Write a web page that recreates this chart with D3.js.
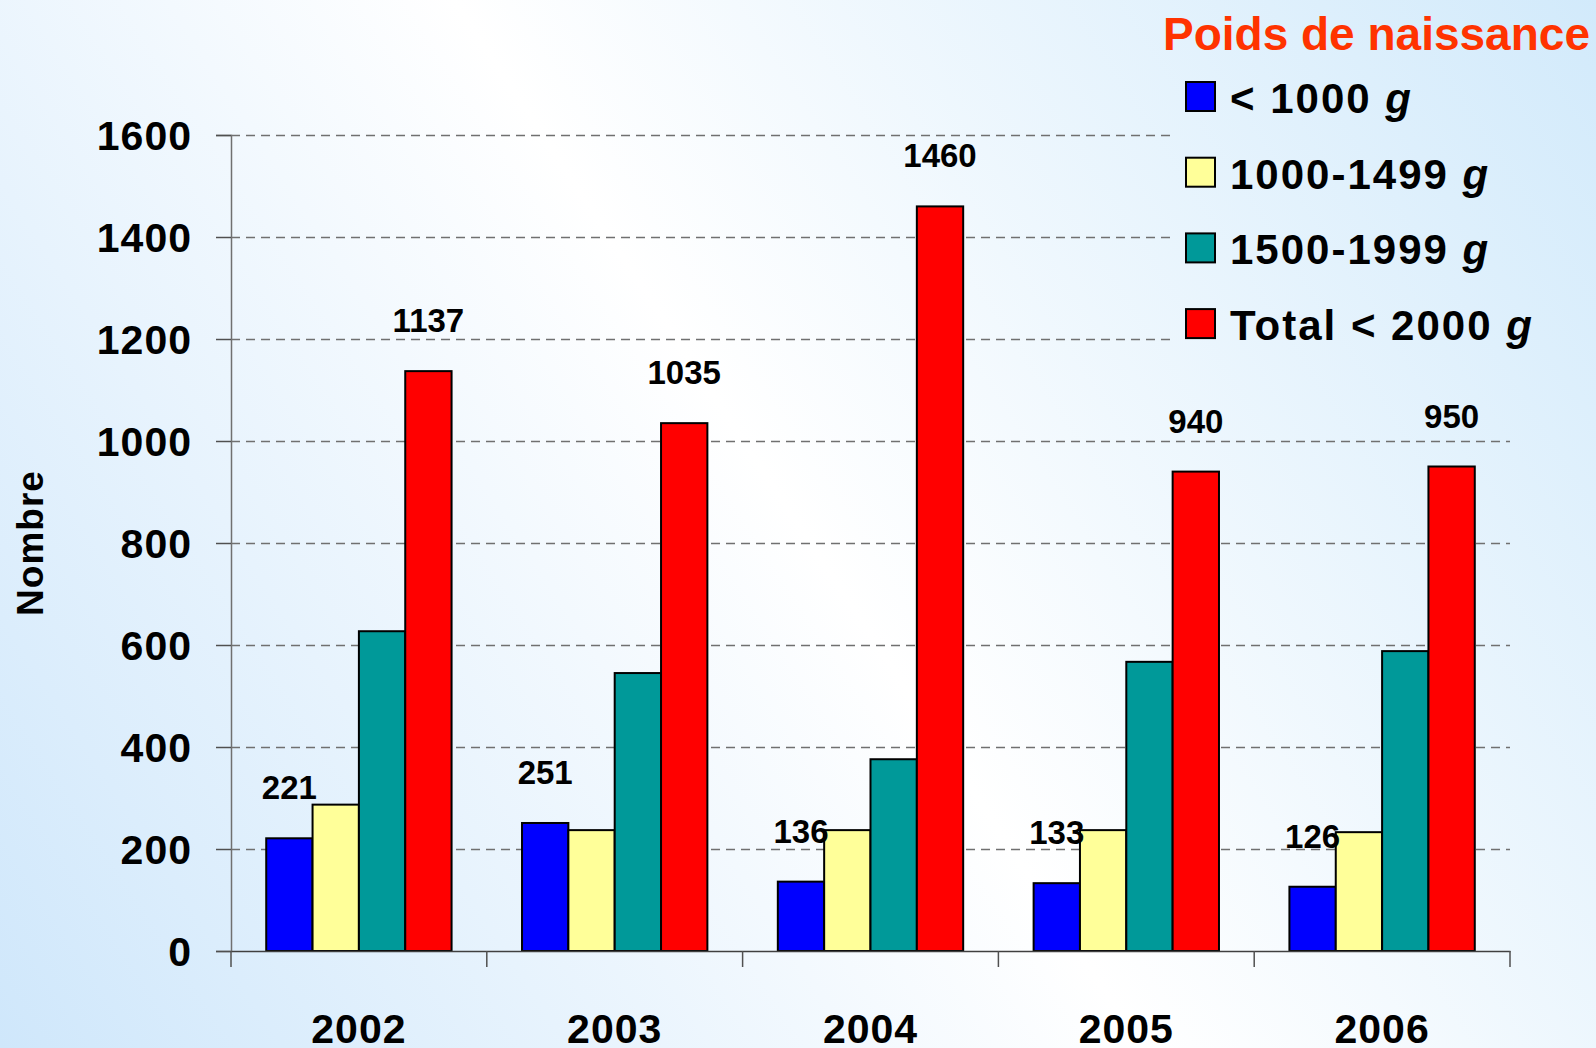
<!DOCTYPE html>
<html>
<head>
<meta charset="utf-8">
<script src="https://cdn.jsdelivr.net/npm/d3@7.9.0/dist/d3.min.js"></script>
<style>
  body { margin: 0; padding: 0; overflow: hidden; }
  svg text { font-family: "Comic Sans MS", "Liberation Sans", Arial, sans-serif; font-weight: bold; }
</style>
</head>
<body>
<svg id="chart"></svg>
<script>
// data
const years = ["2002", "2003", "2004", "2005", "2006"];
const seriesNames = ["< 1000", "1000-1499", "1500-1999", "Total < 2000"];
const under1000 = [221, 251, 136, 133, 126];
const from1000to1499 = [287, 237, 237, 237, 233];
const from1500to1999 = [627, 545, 376, 567, 588];
const totalUnder2000 = [1137, 1035, 1460, 940, 950];
const yTicks = [0, 200, 400, 600, 800, 1000, 1200, 1400, 1600];
const colors = ["#0000ff", "#ffff99", "#009999", "#ff0000"];
const labelled = [0, 3]; // series that carry value labels

const allSeries = [under1000, from1000to1499, from1500to1999, totalUnder2000];
const rows = years.map((yr, i) => ({
    year: yr,
    values: seriesNames.map((s, k) => ({ key: s, idx: k, value: allSeries[k][i] }))
}));

const W = 1596, H = 1048;
const plotLeft = 231, plotRight = 1510, plotTop = 135, plotBottom = 951;

const svg = d3.select("#chart").attr("width", W).attr("height", H);

// background gradient (blue bottom-left, white middle, blue top-right)
const defs = svg.append("defs");
const grad = defs.append("linearGradient")
    .attr("id", "bg").attr("gradientUnits", "userSpaceOnUse")
    .attr("x1", 0).attr("y1", H).attr("x2", W).attr("y2", 0);
grad.append("stop").attr("offset", "0%").attr("stop-color", "#cfe7fb");
grad.append("stop").attr("offset", "50%").attr("stop-color", "#ffffff");
grad.append("stop").attr("offset", "100%").attr("stop-color", "#d2eafb");

svg.append("rect").attr("width", W).attr("height", H).attr("fill", "url(#bg)");

const x0 = d3.scaleBand().domain(years).range([plotLeft, plotRight]).paddingInner(0).paddingOuter(0);
const x1 = d3.scaleBand().domain(seriesNames).range([0, x0.bandwidth()]).paddingInner(0).paddingOuter(0.76);
const y = d3.scaleLinear().domain([0, 1600]).range([plotBottom, plotTop]);

// gridlines
svg.append("g")
    .attr("class", "grid")
    .attr("transform", `translate(${plotLeft},0)`)
    .call(d3.axisRight(y).tickValues(yTicks.filter(d => d > 0)).tickSize(plotRight - plotLeft).tickFormat(""))
    .call(g => g.select(".domain").remove())
    .call(g => g.selectAll("line").attr("stroke", "#707070").attr("stroke-width", 1.5).attr("stroke-dasharray", "9,6"));

// legend background hides the top gridlines
svg.append("rect")
    .attr("x", 1172).attr("y", 0).attr("width", W - 1172).attr("height", 360)
    .attr("fill", "url(#bg)");

// y axis
svg.append("g")
    .attr("transform", `translate(${plotLeft},0)`)
    .call(d3.axisLeft(y).tickValues(yTicks).tickSize(15).tickPadding(24).tickFormat(d3.format("d")))
    .call(g => g.select(".domain").attr("stroke", "#707070").attr("stroke-width", 1.5))
    .call(g => g.selectAll("line").attr("stroke", "#505050").attr("stroke-width", 1.5))
    .call(g => g.selectAll("text").attr("font-size", 41).attr("letter-spacing", 1).attr("fill", "#000").attr("dy", "0.36em"));

// bars
const groups = svg.selectAll(".year")
    .data(rows)
    .enter().append("g")
    .attr("class", "year")
    .attr("transform", d => `translate(${x0(d.year)},0)`);

groups.selectAll("rect")
    .data(d => d.values)
    .enter().append("rect")
    .attr("x", d => x1(d.key))
    .attr("y", d => y(d.value))
    .attr("width", x1.bandwidth())
    .attr("height", d => y(0) - y(d.value))
    .attr("fill", d => colors[d.idx])
    .attr("stroke", "#000")
    .attr("stroke-width", 2);

groups.selectAll(".lbl")
    .data(d => d.values.filter(v => labelled.includes(v.idx)))
    .enter().append("text")
    .attr("class", "lbl")
    .attr("x", d => x1(d.key) + x1.bandwidth() / 2)
    .attr("y", d => y(d.value) - 39)
    .attr("text-anchor", "middle")
    .attr("font-size", 33)
    .attr("fill", "#000")
    .text(d => d.value);

// x axis
svg.append("g")
    .attr("transform", `translate(0,${plotBottom})`)
    .call(d3.axisBottom(x0).tickSize(0).tickPadding(63))
    .call(g => g.select(".domain").attr("stroke", "#404040").attr("stroke-width", 1.5))
    .call(g => g.selectAll("text").attr("font-size", 41).attr("letter-spacing", 1).attr("fill", "#000"));

const bounds = years.map(yr => x0(yr)).concat([x0.range()[1]]);
svg.append("g").selectAll("line")
    .data(bounds)
    .enter().append("line")
    .attr("x1", d => d).attr("x2", d => d)
    .attr("y1", plotBottom).attr("y2", plotBottom + 16)
    .attr("stroke", "#505050").attr("stroke-width", 1.5);

// y axis title
svg.append("text")
    .attr("transform", `translate(43,543) rotate(-90)`)
    .attr("text-anchor", "middle")
    .attr("font-size", 37)
    .attr("letter-spacing", 1)
    .attr("fill", "#000")
    .text("Nombre");

// legend
svg.append("text")
    .attr("x", 1163).attr("y", 50)
    .attr("font-size", 46)
    .attr("fill", "#ff3300")
    .text("Poids de naissance");

seriesNames.forEach((s, i) => {
    svg.append("rect")
        .attr("x", 1186).attr("y", 82 + i * 75.7)
        .attr("width", 29).attr("height", 29)
        .attr("fill", colors[i])
        .attr("stroke", "#000").attr("stroke-width", 2);
    const t = svg.append("text")
        .attr("x", 1230).attr("y", 113 + i * 75.7)
        .attr("font-size", 42)
        .attr("letter-spacing", 2)
        .attr("fill", "#000");
    t.append("tspan").text(s + " ");
    t.append("tspan").attr("font-style", "italic").text("g");
});
</script>
</body>
</html>
